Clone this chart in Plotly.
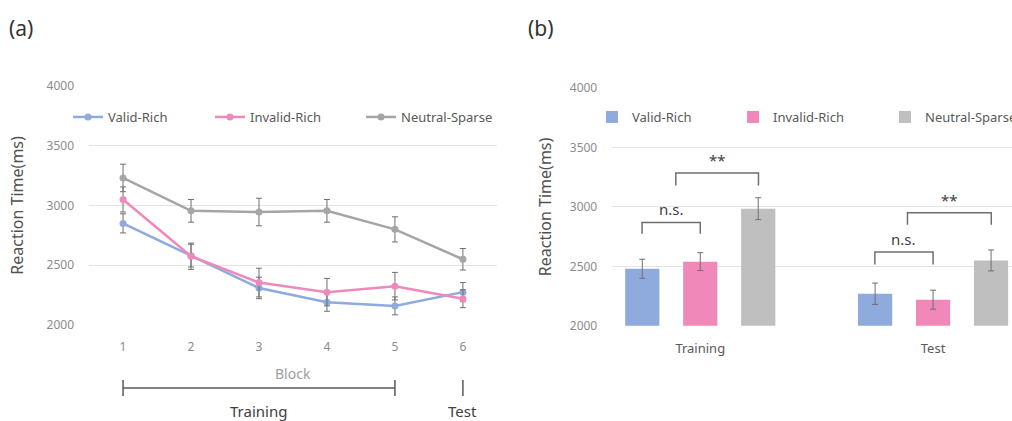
import plotly.graph_objects as go

# ---------------- data ----------------
blocks = ["1", "2", "3", "4", "5", "6"]
series_names = ["Valid-Rich", "Invalid-Rich", "Neutral-Sparse"]

valid_line = [2850, 2580, 2310, 2190, 2160, 2275]
valid_line_err = [80, 95, 90, 75, 75, 80]
invalid_line = [3050, 2575, 2355, 2275, 2325, 2220]
invalid_line_err = [105, 110, 120, 115, 115, 75]
neutral_line = [3230, 2955, 2945, 2955, 2800, 2550]
neutral_line_err = [115, 95, 115, 95, 105, 90]

phases = ["Training", "Test"]
valid_bar = [2480, 2270]
valid_bar_err = [80, 90]
invalid_bar = [2540, 2220]
invalid_bar_err = [75, 80]
neutral_bar = [2985, 2550]
neutral_bar_err = [92, 88]

y_ticks = [2000, 2500, 3000, 3500, 4000]

# significance brackets: (x_left, x_right, y_bar, y_leg, label)
brackets = [
    (-0.25, 0.0, 2870, 2775, "n.s."),
    (-0.105, 0.25, 3285, 3180, "**"),
    (0.75, 1.0, 2620, 2515, "n.s."),
    (0.89, 1.25, 2950, 2850, "**"),
]

# ---------------- style ----------------
BLUE = "#8FAADC"
PINK = "#F088BA"
GRAY_LINE = "#A5A5A5"
GRAY_BAR = "#BFBFBF"
ERR = "#6F6F6F"
FONT = "Noto Sans"

colors_line = [BLUE, PINK, GRAY_LINE]
colors_bar = [BLUE, PINK, GRAY_BAR]

# legend left-edge x positions in pixels (one legend per item)
line_leg_px = [68, 210, 361]
bar_leg_px = [592, 733, 885]

fig = go.Figure()

line_vals = [valid_line, invalid_line, neutral_line]
line_errs = [valid_line_err, invalid_line_err, neutral_line_err]
for i, (name, v, e, c) in enumerate(zip(series_names, line_vals, line_errs, colors_line)):
    fig.add_trace(go.Scatter(
        x=blocks, y=v, name=name, mode="lines+markers",
        line=dict(color=c, width=2.5), marker=dict(color=c, size=7),
        error_y=dict(type="data", array=e, color=ERR, thickness=1, width=3),
        xaxis="x", yaxis="y", legend="legend" if i == 0 else f"legend{i + 1}",
    ))

bar_vals = [valid_bar, invalid_bar, neutral_bar]
bar_errs = [valid_bar_err, invalid_bar_err, neutral_bar_err]
for i, (name, v, e, c) in enumerate(zip(series_names, bar_vals, bar_errs, colors_bar)):
    fig.add_trace(go.Bar(
        x=phases, y=v, name=name, marker=dict(color=c, line=dict(width=0)),
        error_y=dict(type="data", array=e, color=ERR, thickness=1, width=3),
        xaxis="x2", yaxis="y2", legend=f"legend{i + 4}",
    ))

grid = "#E4E4E4"
axis_font = dict(family=FONT, size=12, color="#8C8C8C")
title_font = dict(family=FONT, size=16, color="#505050")

layout = dict(
    width=1012, height=421,
    margin=dict(l=0, r=0, t=0, b=0, autoexpand=False),
    paper_bgcolor="white", plot_bgcolor="white",
    font=dict(family=FONT),
    barmode="group", bargap=0.253, bargroupgap=0.41,
    showlegend=True,
    xaxis=dict(domain=[0.088, 0.491], type="category", range=[-0.5, 5.5],
               showgrid=False, showline=False, ticks="",
               tickfont=dict(family=FONT, size=12, color="#8C8C8C"),
               anchor="y", ticklabelstandoff=13),
    yaxis=dict(domain=[0.228, 0.796], range=[2000, 4000], tickvals=y_ticks,
               showgrid=True, gridcolor=grid, gridwidth=1, zeroline=False, showline=False,
               tickfont=axis_font, ticks="", ticklabelstandoff=14,
               title=dict(text="Reaction Time(ms)", font=title_font, standoff=18),
               anchor="x"),
    xaxis2=dict(domain=[0.605, 1.0], type="category", range=[-0.378, 1.339],
                showgrid=False, showline=False, ticks="",
                tickfont=dict(family=FONT, size=13, color="#595959"), anchor="y2",
                ticklabelstandoff=13),
    yaxis2=dict(domain=[0.226, 0.791], range=[2000, 4000], tickvals=y_ticks,
                showgrid=True, gridcolor=grid, gridwidth=1, zeroline=False, showline=False,
                tickfont=axis_font, ticks="", ticklabelstandoff=14,
                title=dict(text="Reaction Time(ms)", font=title_font, standoff=14),
                anchor="x2"),
)

leg_font = dict(family=FONT, size=13, color="#595959")
for i, px in enumerate(line_leg_px + bar_leg_px):
    key = "legend" if i == 0 else f"legend{i + 1}"
    layout[key] = dict(orientation="h", x=px / 1012, y=1 - 117 / 421,
                       xanchor="left", yanchor="middle", bgcolor="rgba(0,0,0,0)",
                       font=leg_font, itemwidth=30, borderwidth=0)

fig.update_layout(**layout)

shapes = []
annotations = []
# significance brackets
for x0, x1, yb, yl, lab in brackets:
    shapes.append(dict(type="path", xref="x2", yref="y2",
                       path=f"M {x0},{yl} L {x0},{yb} L {x1},{yb} L {x1},{yl}",
                       line=dict(color="#6F6F6F", width=1.5)))
    annotations.append(dict(x=(x0 + x1) / 2, y=yb, xref="x2", yref="y2", text=lab,
                            showarrow=False, yanchor="bottom", yshift=1,
                            font=dict(family=FONT, size=15, color="#404040")))


def py(p):
    return 1 - p / 421


# block bracket under left panel
shapes.append(dict(type="line", xref="x", yref="paper", x0=0, x1=4, y0=py(388), y1=py(388),
                   line=dict(color="#595959", width=1.5)))
for xv in (0, 4, 5):
    shapes.append(dict(type="line", xref="x", yref="paper", x0=xv, x1=xv, y0=py(380), y1=py(396),
                       line=dict(color="#595959", width=1.5)))

annotations += [
    dict(x=2.5, y=py(373), xref="x", yref="paper", text="Block", showarrow=False,
         yanchor="middle", font=dict(family=FONT, size=14, color="#A0A0A0")),
    dict(x=2, y=py(411), xref="x", yref="paper", text="Training", showarrow=False,
         yanchor="middle", font=dict(family=FONT, size=15, color="#404040")),
    dict(x=5, y=py(411), xref="x", yref="paper", text="Test", showarrow=False,
         yanchor="middle", font=dict(family=FONT, size=15, color="#404040")),
    dict(x=7 / 1012, y=py(28), xref="paper", yref="paper", text="(a)", showarrow=False,
         xanchor="left", yanchor="middle", font=dict(family=FONT, size=21, color="#333333")),
    dict(x=526 / 1012, y=py(28), xref="paper", yref="paper", text="(b)", showarrow=False,
         xanchor="left", yanchor="middle", font=dict(family=FONT, size=21, color="#333333")),
]

fig.update_layout(shapes=shapes, annotations=annotations)
fig.write_html("out.html")
